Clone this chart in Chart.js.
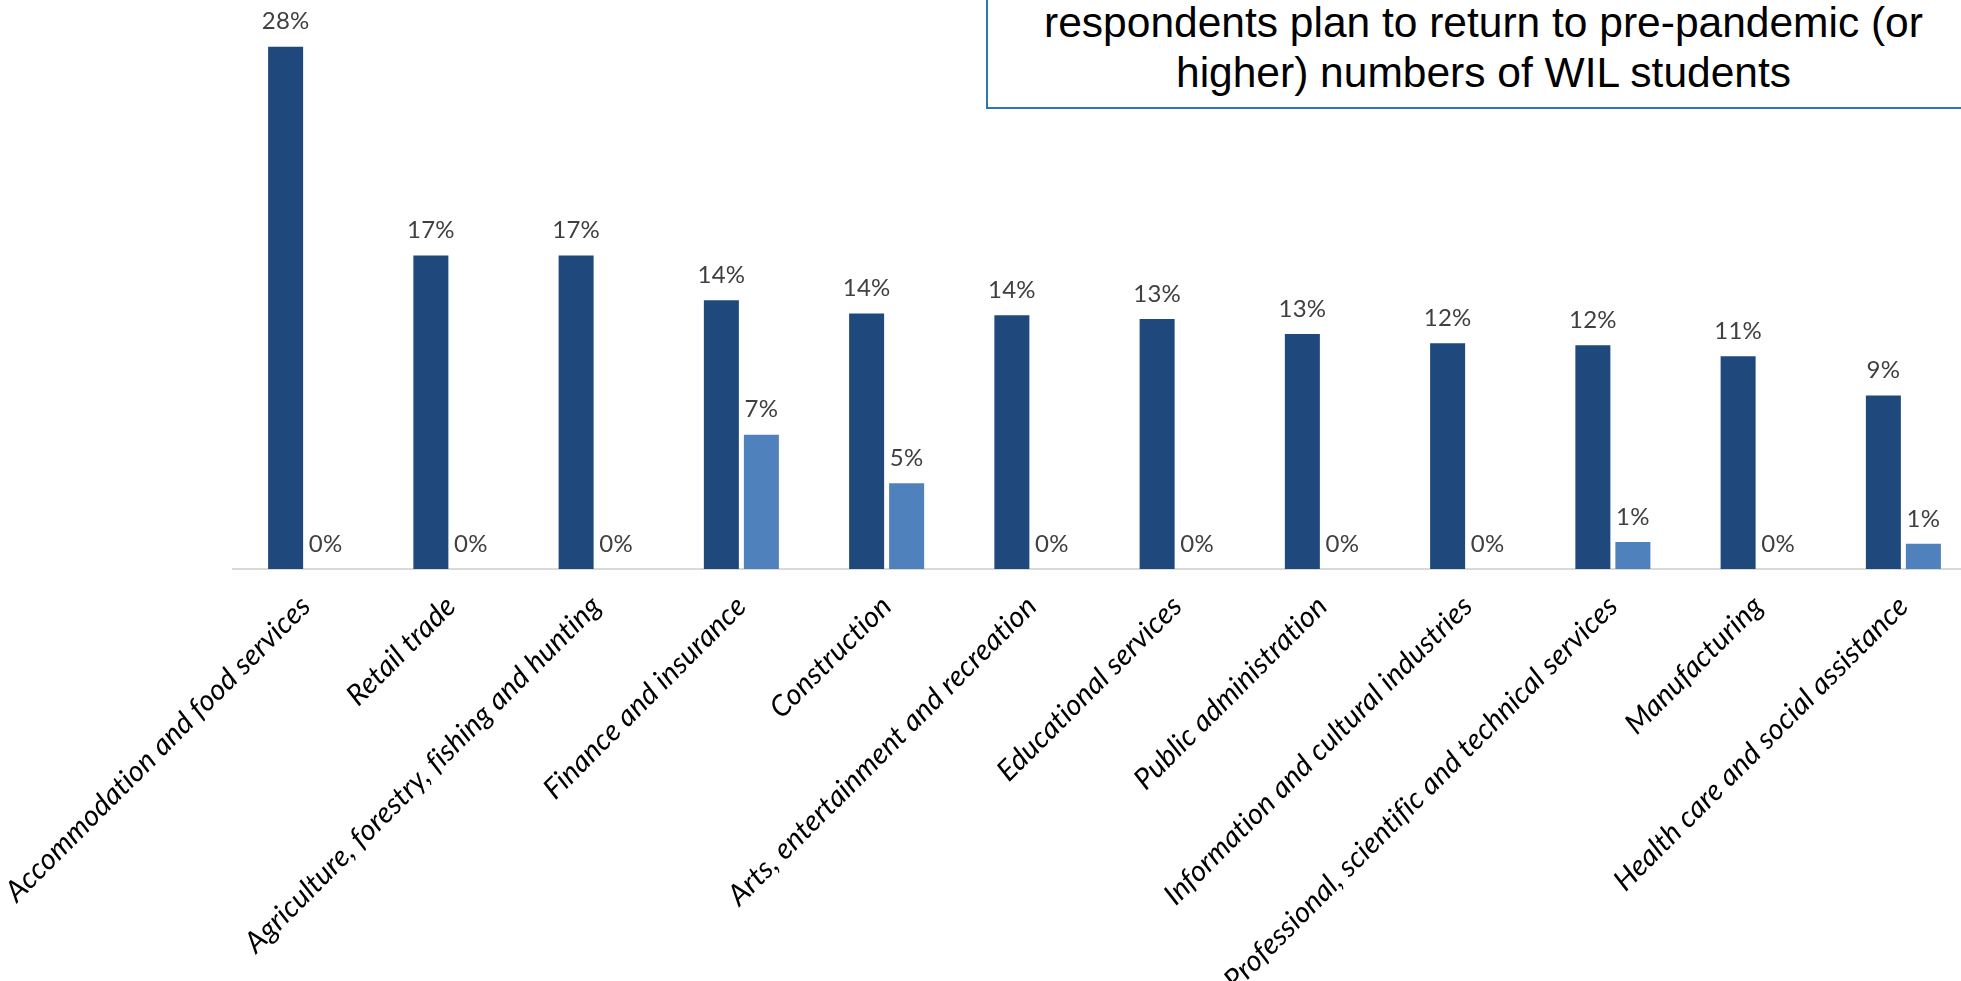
<!DOCTYPE html>
<html>
<head>
<meta charset="utf-8">
<script src="https://cdn.jsdelivr.net/npm/chart.js@4"></script>
<style>
    html, body {
        margin: 0;
        padding: 0;
        background: #fff;
        width: 1961px;
        height: 981px;
        overflow: hidden;
    }
    #wrap {
        position: absolute;
        left: 0;
        top: 0;
        width: 1976px;
        height: 981px;
    }
    #note {
        position: absolute;
        left: 986px;
        top: -20px;
        width: 995px;
        height: 129px;
        box-sizing: border-box;
        border: 2px solid #2E75B6;
        padding-top: 16px;
        background: #fff;
        font-family: "Liberation Sans", Arial, sans-serif;
        font-size: 42.5px;
        line-height: 50px;
        text-align: center;
        color: #000;
    }
</style>
</head>
<body>
<div id="wrap">
    <canvas id="sector-chart" width="1976" height="981"></canvas>
</div>
<div id="note">respondents plan to return to pre-pandemic (or<br>higher) numbers of WIL students</div>

<script>
// Kategori sektor
const categories = [
    'Accommodation and food services',
    'Retail trade',
    'Agriculture, forestry, fishing and hunting',
    'Finance and insurance',
    'Construction',
    'Arts, entertainment and recreation',
    'Educational services',
    'Public administration',
    'Information and cultural industries',
    'Professional, scientific and technical services',
    'Manufacturing',
    'Health care and social assistance'
];

// Persentase per sektor (dua seri)
const seriesDark = [28.0, 16.8, 16.8, 14.4, 13.7, 13.6, 13.4, 12.6, 12.1, 12.0, 11.4, 9.3];
const seriesLight = [0, 0, 0, 7.2, 4.6, 0, 0, 0, 0, 1.45, 0, 1.35];

// Lato italic tidak punya glyph ligatur "fi" yang benar, jadi ligatur dimatikan lewat letterSpacing
const noLigatures = {
    id: 'noLigatures',
    beforeDraw(chart) {
        chart.ctx.letterSpacing = '0.2px';
    }
};

// Plugin kecil untuk menulis nilai di atas setiap bar
const barValueLabels = {
    id: 'barValueLabels',
    afterDatasetsDraw(chart) {
        const ctx = chart.ctx;
        ctx.save();
        ctx.font = '24px Lato';
        ctx.fillStyle = '#404040';
        ctx.textAlign = 'center';
        ctx.textBaseline = 'middle';
        chart.data.datasets.forEach((ds, i) => {
            chart.getDatasetMeta(i).data.forEach((bar, j) => {
                ctx.fillText(Math.round(ds.data[j]) + '%', bar.x, bar.y - 25);
            });
        });
        ctx.restore();
    }
};

function drawChart() {
    const ctx = document.getElementById('sector-chart').getContext('2d');
    new Chart(ctx, {
        type: 'bar',
        data: {
            labels: categories,
            datasets: [{
                label: 'Series 1',
                data: seriesDark,
                backgroundColor: '#1F497D',
                categoryPercentage: 0.551,
                barPercentage: 0.875
            }, {
                label: 'Series 2',
                data: seriesLight,
                backgroundColor: '#4F81BD',
                categoryPercentage: 0.551,
                barPercentage: 0.875
            }]
        },
        options: {
            responsive: false,
            animation: false,
            layout: {
                padding: { left: 233, right: 0, top: 0, bottom: 0 }
            },
            scales: {
                y: {
                    display: false,
                    min: 0,
                    max: 30.5
                },
                x: {
                    grid: { display: false, drawTicks: false },
                    border: { display: true, color: '#D9D9D9', width: 2 },
                    ticks: {
                        autoSkip: false,
                        minRotation: 45,
                        maxRotation: 45,
                        padding: 20,
                        color: '#000',
                        font: { family: 'Lato', style: 'italic', size: 29 }
                    },
                    afterFit(scale) {
                        // tinggi area label tetap, supaya sumbu berada di y = 569
                        scale.height = 412;
                        scale.paddingLeft = 0;
                        scale.paddingRight = 0;
                    }
                }
            },
            plugins: {
                legend: { display: false },
                tooltip: { enabled: false }
            }
        },
        plugins: [noLigatures, barValueLabels]
    });
}

document.fonts.load('italic 29px Lato').then(() => document.fonts.load('24px Lato')).then(drawChart, drawChart);
</script>
</body>
</html>
